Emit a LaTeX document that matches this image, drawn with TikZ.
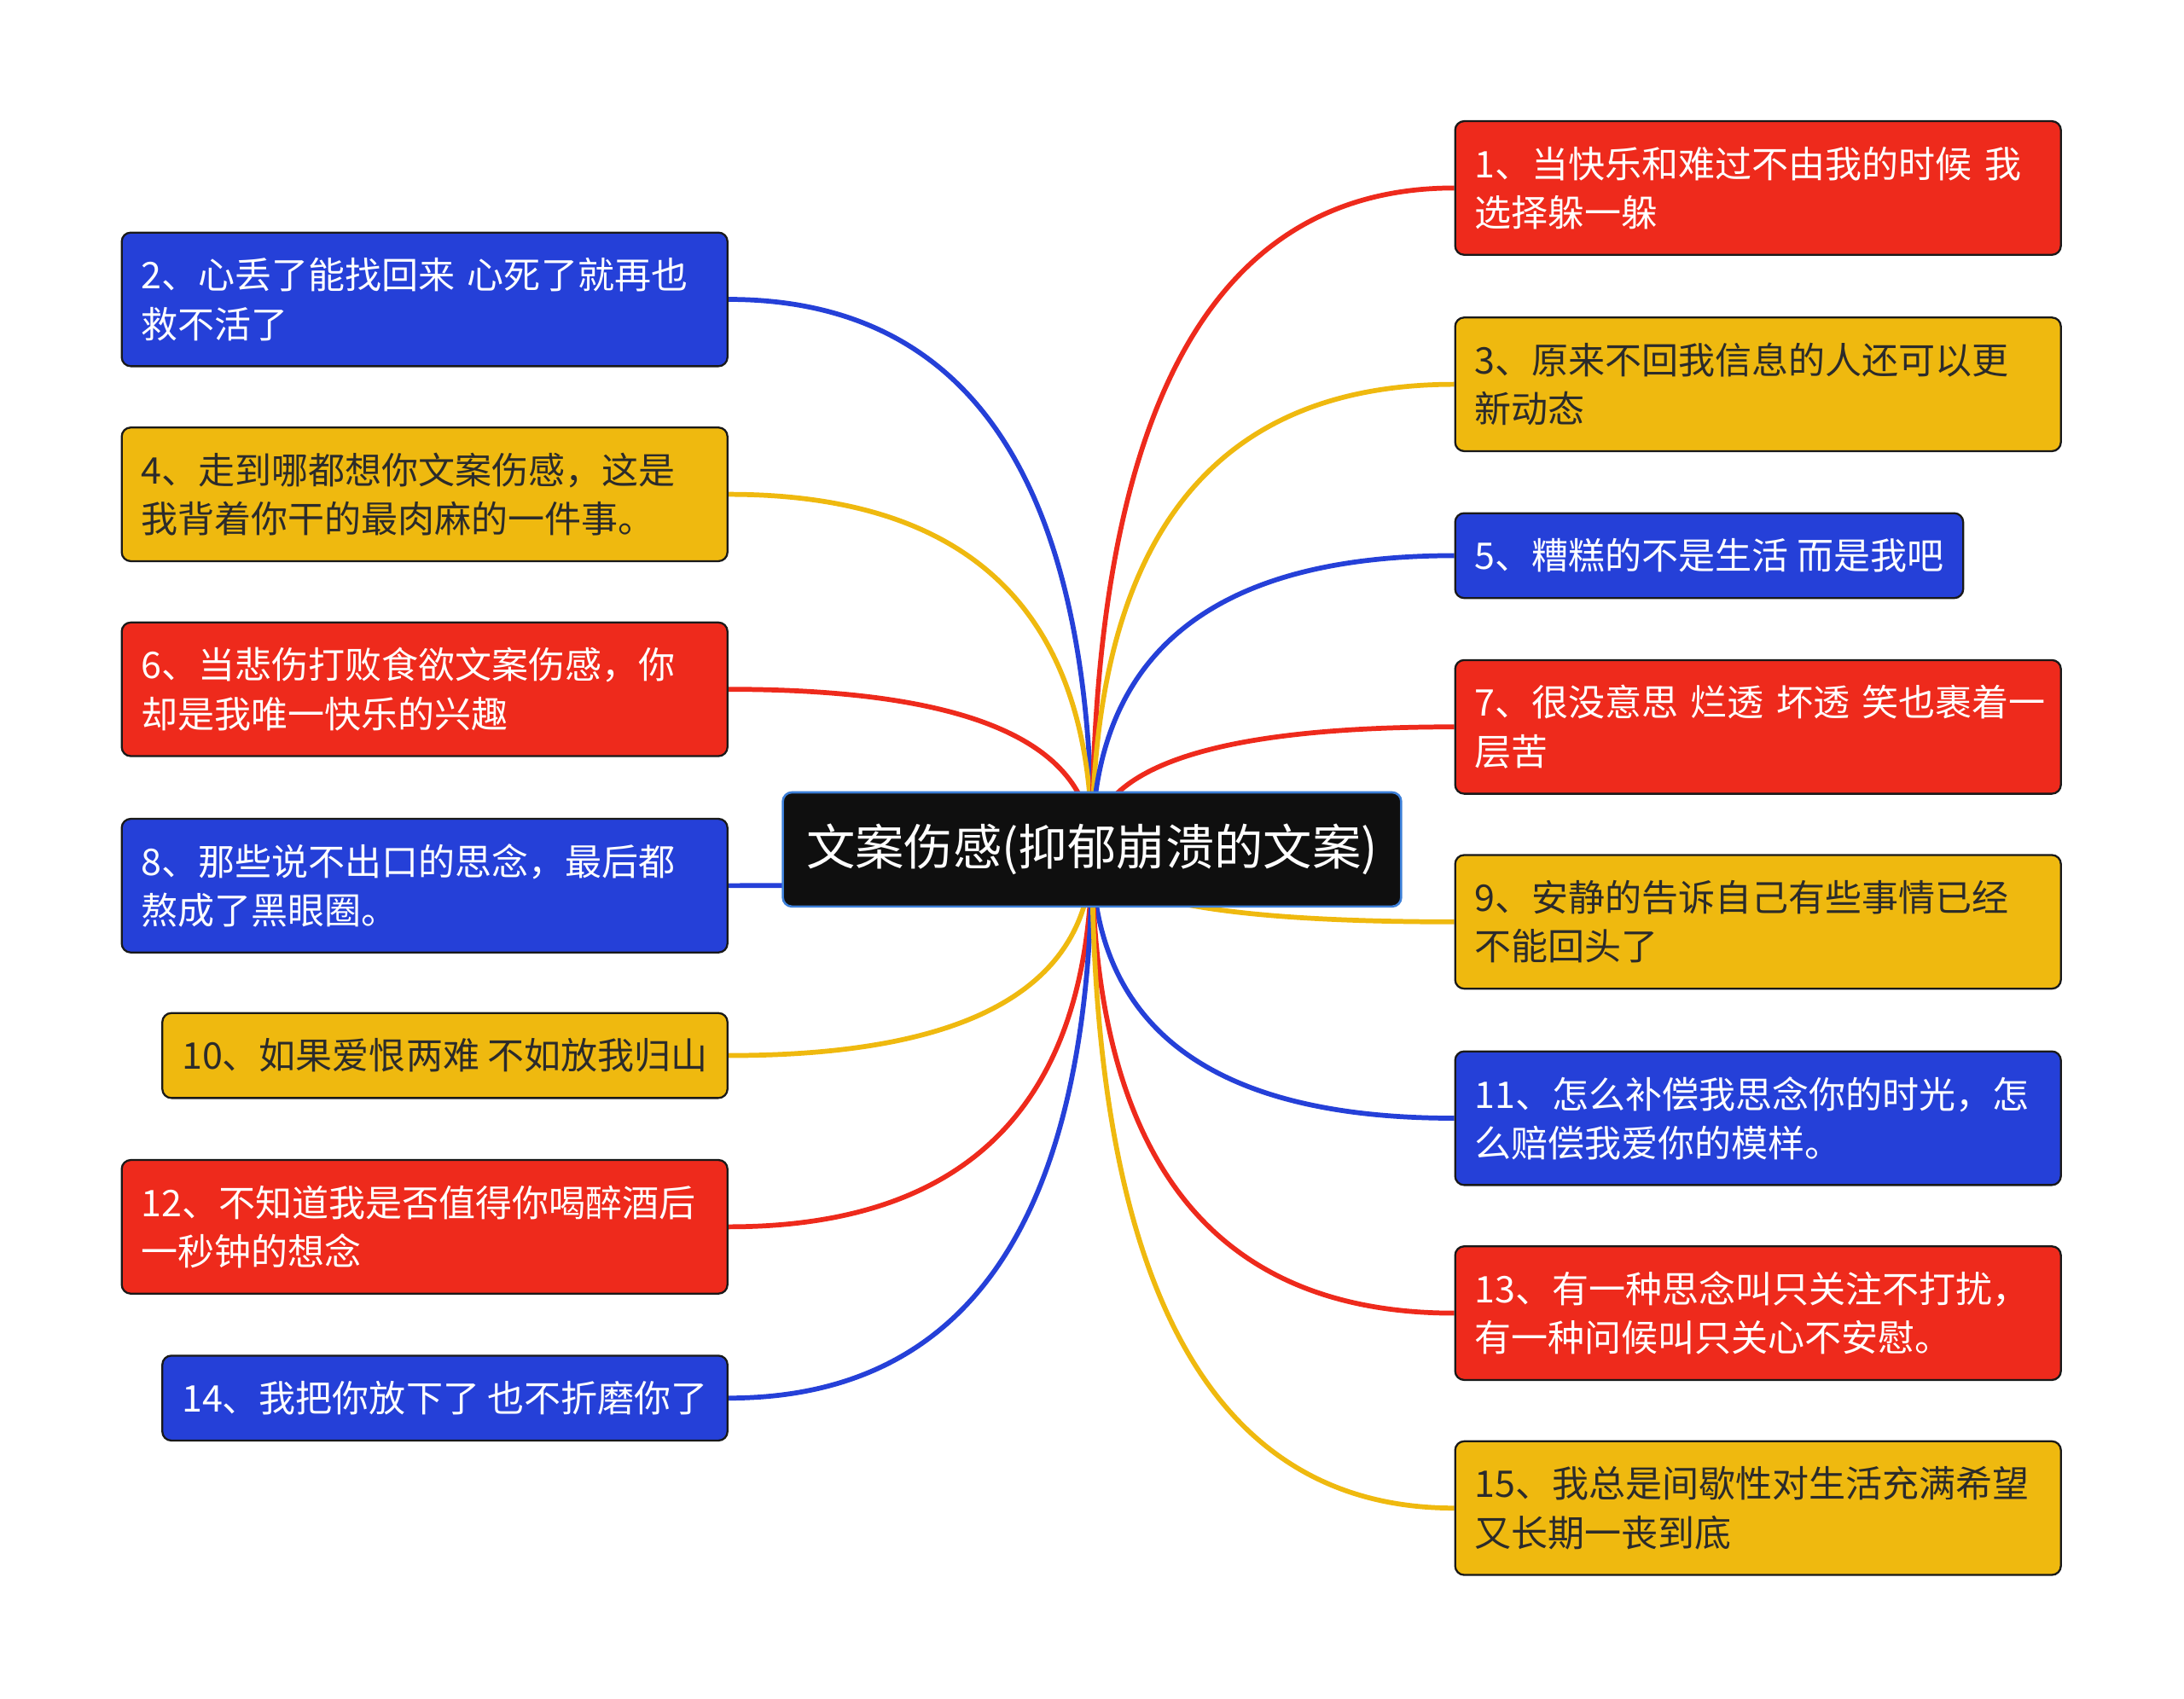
\documentclass[tikz,border=0pt]{standalone}
\usepackage{fontspec}
\setmainfont{Noto Sans CJK SC}
\usetikzlibrary{calc,backgrounds}
\definecolor{MMred}{HTML}{EE2A1C}
\definecolor{MMblue}{HTML}{2540D8}
\definecolor{MMyellow}{HTML}{EFB90F}
\definecolor{MMdark}{HTML}{2B2B2B}
\definecolor{MMcore}{HTML}{0F0F0F}
\definecolor{MMrim}{HTML}{3C7FD8}

\begin{document}
\begin{tikzpicture}[x=0.02cm,y=-0.02cm,
    box/.style={draw=black!90,line width=0.8pt,rounded corners=0.13cm,inner xsep=0.28cm,inner ysep=0pt,font=\fontsize{15pt}{20pt}\selectfont},
    twoline/.style={box,text width=8.14cm,align=left,minimum height=1.92cm},
    oneline/.style={box,minimum height=1.22cm},
    conn/.style={line width=2pt}]
  \useasboundingbox (0,0) rectangle (1568,1220);
  \node[fill=MMcore,draw=MMrim,line width=0.9pt,rounded corners=0.13cm,text=white,minimum width=8.88cm,minimum height=1.64cm,font=\fontsize{20pt}{24pt}\selectfont] (ctr) at (784,610) {文案伤感(抑郁崩溃的文案)};
  % left branches
  \foreach \nm/\yy/\kind/\cc/\tc/\txt in {
      l2/215/twoline/MMblue/white/{2、心丢了能找回来~心死了就再也\\救不活了},
      l4/355/twoline/MMyellow/MMdark/{4、走到哪都想你文案伤感，这是\\我背着你干的最肉麻的一件事。},
      l6/495/twoline/MMred/white/{6、当悲伤打败食欲文案伤感，你\\却是我唯一快乐的兴趣},
      l8/636/twoline/MMblue/white/{8、那些说不出口的思念，最后都\\熬成了黑眼圈。},
      l10/758/oneline/MMyellow/MMdark/{10、如果爱恨两难 不如放我归山},
      l12/881/twoline/MMred/white/{12、不知道我是否值得你喝醉酒后\\一秒钟的想念},
      l14/1004/oneline/MMblue/white/{14、我把你放下了 也不折磨你了}}
  {
    \node[\kind,fill=\cc,text=\tc,anchor=east] (\nm) at (523,\yy) {\txt};
    \begin{pgfonlayer}{background}
      \draw[conn,\cc] (ctr.center) .. controls ($(ctr.center)!0.667!(ctr.center |- \nm.east)$) and ($(\nm.east)!0.667!(ctr.center |- \nm.east)$) .. (\nm.east);
    \end{pgfonlayer}
  }
  % right branches
  \foreach \nm/\yy/\kind/\cc/\tc/\txt in {
      r1/135/twoline/MMred/white/{1、当快乐和难过不由我的时候~我\\选择躲一躲},
      r3/276/twoline/MMyellow/MMdark/{3、原来不回我信息的人还可以更\\新动态},
      r5/399/oneline/MMblue/white/{5、糟糕的不是生活 而是我吧},
      r7/522/twoline/MMred/white/{7、很没意思~烂透~坏透~笑也裹着一\\层苦},
      r9/662/twoline/MMyellow/MMdark/{9、安静的告诉自己有些事情已经\\不能回头了},
      r11/803/twoline/MMblue/white/{11、怎么补偿我思念你的时光，怎\\么赔偿我爱你的模样。},
      r13/943/twoline/MMred/white/{13、有一种思念叫只关注不打扰，\\有一种问候叫只关心不安慰。},
      r15/1083/twoline/MMyellow/MMdark/{15、我总是间歇性对生活充满希望\\又长期一丧到底}}
  {
    \node[\kind,fill=\cc,text=\tc,anchor=west] (\nm) at (1044,\yy) {\txt};
    \begin{pgfonlayer}{background}
      \draw[conn,\cc] (ctr.center) .. controls ($(ctr.center)!0.667!(ctr.center |- \nm.west)$) and ($(\nm.west)!0.667!(ctr.center |- \nm.west)$) .. (\nm.west);
    \end{pgfonlayer}
  }
\end{tikzpicture}
\end{document}
